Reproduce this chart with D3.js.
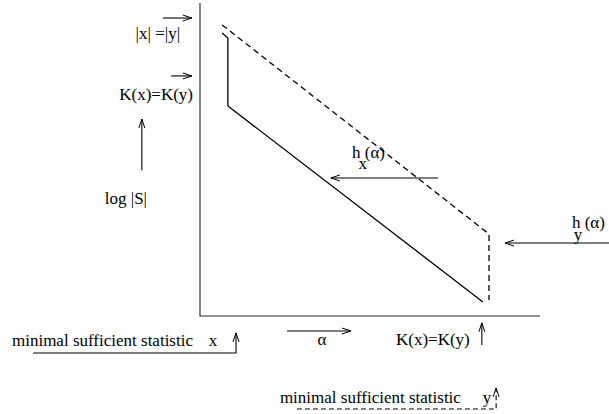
<!DOCTYPE html>
<html>
<head>
<meta charset="utf-8">
<script src="https://cdn.jsdelivr.net/npm/d3@7"></script>
<style>
  body { margin: 0; background: #fff; }
  text { font-family: "Liberation Serif", "DejaVu Serif", serif; font-size: 17px; fill: #000; }
</style>
</head>
<body>
<svg id="chart" width="609" height="414"></svg>
<script>
// curves, in chart units (alpha across, log|S| up)
const solidAlpha = [6.5, 8.2, 8.2, 83.2];
const solidLogS = [90.4, 88.8, 67.1, 4.5];
const dashAlpha = [6.5, 85.0, 85.0];
const dashLogS = [93.0, 26.2, 5.1];

// annotation arrows: [alpha, logS] points, head on the last point
const arrowLines = [
    [[-10.9, 95.2], [-2.4, 95.2]],
    [[-8.5, 76.7], [-2.4, 76.7]],
    [[-17.1, 46.6], [-17.1, 62.9]],
    [[70.0, 44.1], [38.5, 44.1]],
    [[120.3, 23.3], [89.7, 23.3]],
    [[-49.1, -11.8], [10.6, -11.8], [10.6, -5.4]],
    [[25.6, -4.8], [44.4, -4.8]],
    [[82.9, -9.3], [82.9, -2.2]]
];
const dashedArrow = [[28.5, -29.7], [87.1, -29.7], [87.1, -23.0]];

// labels: text, alpha, logS, anchor
const labelText = ["|x| =|y|", "K(x)=K(y)", "log |S|", "h (\u03b1)", "x", "h (\u03b1)", "y",
    "minimal sufficient statistic", "x", "\u03b1", "K(x)=K(y)", "minimal sufficient statistic", "y"];
const labelAlpha = [-12.4, -12.9, -21.8, 44.7, 47.9, 109.4, 111.2, -55.3, 3.8, 35.9, 68.5, 23.5, 84.4];
const labelLogS = [88.5, 69.0, 35.8, 50.5, 47.0, 28.1, 24.3, -9.6, -9.6, -9.3, -9.3, -27.8, -27.8];
const labelAnchor = ["middle", "middle", "middle", "start", "middle", "start", "middle",
    "start", "middle", "middle", "middle", "start", "middle"];

const svg = d3.select("#chart");
const X = d3.scaleLinear().domain([0, 100]).range([200, 540]);
const Y = d3.scaleLinear().domain([0, 100]).range([316, 3]);
const line = d3.line().x(d => X(d[0])).y(d => Y(d[1]));

// axes: plain L-shaped frame
svg.append("path")
    .attr("d", line([[0, 100], [0, 0], [100, 0]]))
    .attr("fill", "none")
    .attr("stroke", "#222")
    .attr("stroke-width", 1.1);

svg.append("path")
    .attr("d", line(solidAlpha.map((a, i) => [a, solidLogS[i]])))
    .attr("fill", "none")
    .attr("stroke", "#000")
    .attr("stroke-width", 1.3);

svg.append("path")
    .attr("d", line(dashAlpha.map((a, i) => [a, dashLogS[i]])))
    .attr("fill", "none")
    .attr("stroke", "#000")
    .attr("stroke-width", 1.3)
    .attr("stroke-dasharray", "6,4");

function drawArrow(pts, dashed) {
    svg.append("path")
        .attr("d", line(pts))
        .attr("fill", "none")
        .attr("stroke", "#000")
        .attr("stroke-width", 1.1)
        .attr("stroke-dasharray", dashed ? "5,3" : null);
    // open head at the last point
    const p1 = pts[pts.length - 2], p2 = pts[pts.length - 1];
    const x1 = X(p1[0]), y1 = Y(p1[1]), x2 = X(p2[0]), y2 = Y(p2[1]);
    const ang = Math.atan2(y2 - y1, x2 - x1);
    const len = 9, half = 3;
    const bx = x2 - len * Math.cos(ang), by = y2 - len * Math.sin(ang);
    const nx = -Math.sin(ang) * half, ny = Math.cos(ang) * half;
    svg.append("path")
        .attr("d", `M${bx + nx},${by + ny}L${x2},${y2}L${bx - nx},${by - ny}`)
        .attr("fill", "none")
        .attr("stroke", "#000")
        .attr("stroke-width", 1);
}

arrowLines.forEach(pts => drawArrow(pts, false));
drawArrow(dashedArrow, true);

svg.selectAll("text.lbl")
    .data(labelText)
    .enter()
    .append("text")
    .attr("class", "lbl")
    .attr("x", (d, i) => X(labelAlpha[i]))
    .attr("y", (d, i) => Y(labelLogS[i]))
    .attr("text-anchor", (d, i) => labelAnchor[i])
    .text(d => d);
</script>
</body>
</html>
